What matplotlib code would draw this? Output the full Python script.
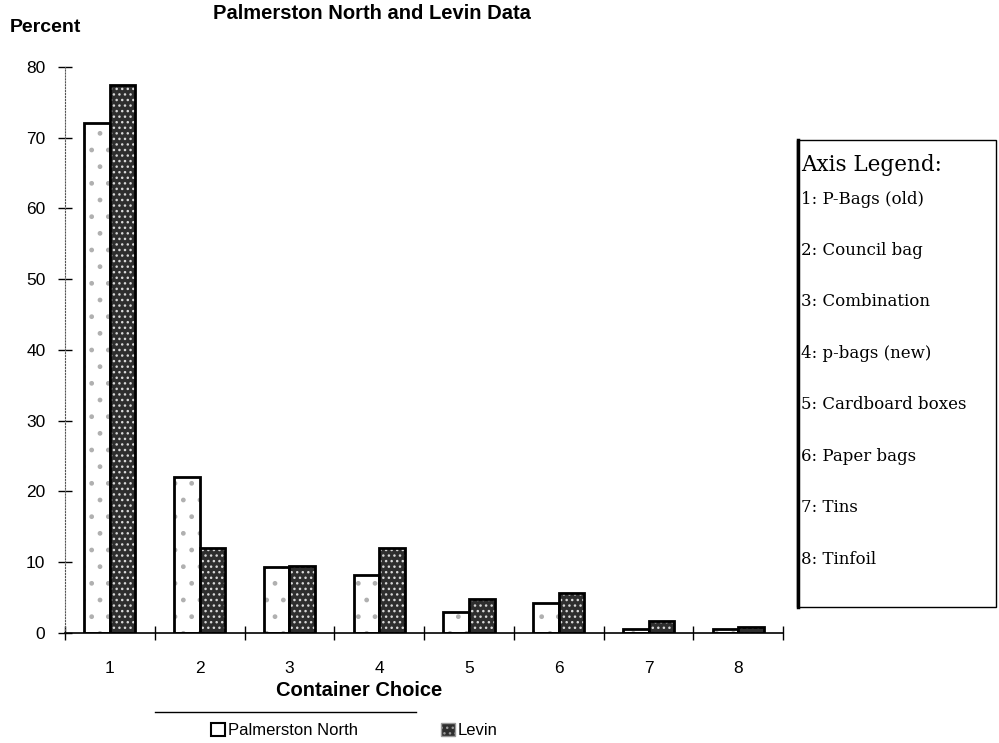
import numpy as np
import matplotlib.pyplot as plt
from matplotlib.patches import Patch, Rectangle
from matplotlib.lines import Line2D

# survey results, percent of households per container type
categories = ['1', '2', '3', '4', '5', '6', '7', '8']
palmerston = [72, 22, 9.3, 8.2, 3.0, 4.3, 0.6, 0.5]
levin = [77.5, 12, 9.5, 12, 4.8, 5.6, 1.7, 0.8]
container_names = ['P-Bags (old)', 'Council bag', 'Combination', 'p-bags (new)',
                   'Cardboard boxes', 'Paper bags', 'Tins', 'Tinfoil']

plt.rcParams['font.family'] = ['Liberation Sans', 'DejaVu Sans']
plt.rcParams['hatch.linewidth'] = 1.0

fig = plt.figure(figsize=(9.99, 7.43), dpi=100)
ax = fig.add_axes([0.065, 0.148, 0.719, 0.762])

x = np.arange(1, len(categories) + 1)
w = 0.285

# Palmerston North: white with sparse grey dots
ax.bar(x - w / 2, palmerston, w, facecolor='white', edgecolor='#b0b0b0',
       hatch='.', linewidth=0)
ax.bar(x - w / 2, palmerston, w, facecolor='none', edgecolor='black', linewidth=2)
# Levin: dark stipple
ax.bar(x + w / 2, levin, w, facecolor='#2e2e2e', edgecolor='#d8d8d8',
       hatch='...', linewidth=0)
ax.bar(x + w / 2, levin, w, facecolor='none', edgecolor='black', linewidth=2)

ax.set_xlim(0.5, 8.5)
ax.set_ylim(0, 80)
ax.set_xticks(x)
ax.set_xticklabels(categories, fontsize=12.5)
ax.set_xticks(np.arange(0.5, 9, 1), minor=True)
ax.tick_params(axis='x', which='major', length=0, pad=20)
ax.tick_params(axis='x', which='minor', length=10, direction='inout', width=1)
ax.set_yticks(np.arange(0, 81, 10))
ax.tick_params(axis='y', length=10, direction='inout', width=1, labelsize=12.5, pad=9)

for s in ['top', 'right']:
    ax.spines[s].set_visible(False)
ax.spines['left'].set_linestyle(':')
ax.spines['left'].set_color('#555555')
ax.spines['bottom'].set_linewidth(1.2)

ax.set_xlabel('Container Choice', fontsize=14.5, fontweight='bold')
ax.xaxis.set_label_coords(0.41, -0.085)
fig.text(0.010, 0.963, 'Percent', fontsize=14, fontweight='bold', va='center')
fig.text(0.372, 0.982, 'Palmerston North and Levin Data', fontsize=14.5,
         fontweight='bold', ha='center', va='center')

# series key under the x axis label
fig.add_artist(Line2D([0.155, 0.416], [0.042, 0.042], color='black', lw=1))
handles = [Patch(facecolor='white', edgecolor='black', lw=1.5),
           Patch(facecolor='#2e2e2e', edgecolor='#999999', hatch='...', lw=1)]
fig.legend(handles, ['Palmerston North', 'Levin'], loc='center',
           bbox_to_anchor=(0.355, 0.017), ncol=2, frameon=False, fontsize=12,
           handlelength=0.8, handleheight=0.8, handletextpad=0.2, columnspacing=5)

# category name box on the right
fig.add_artist(Rectangle((0.798, 0.183), 0.199, 0.629, transform=fig.transFigure,
                         facecolor='white', edgecolor='black', lw=1))
fig.add_artist(Line2D([0.799, 0.799], [0.183, 0.812], color='black', lw=2.5))
fig.text(0.802, 0.778, 'Axis Legend:', fontsize=15.5, family='DejaVu Serif',
         va='center')
for i, name in enumerate(container_names):
    fig.text(0.802, 0.732 - i * 0.0692, f'{i + 1}: {name}', fontsize=12,
             family='DejaVu Serif', va='center')

fig.savefig('out.png', dpi=100)
